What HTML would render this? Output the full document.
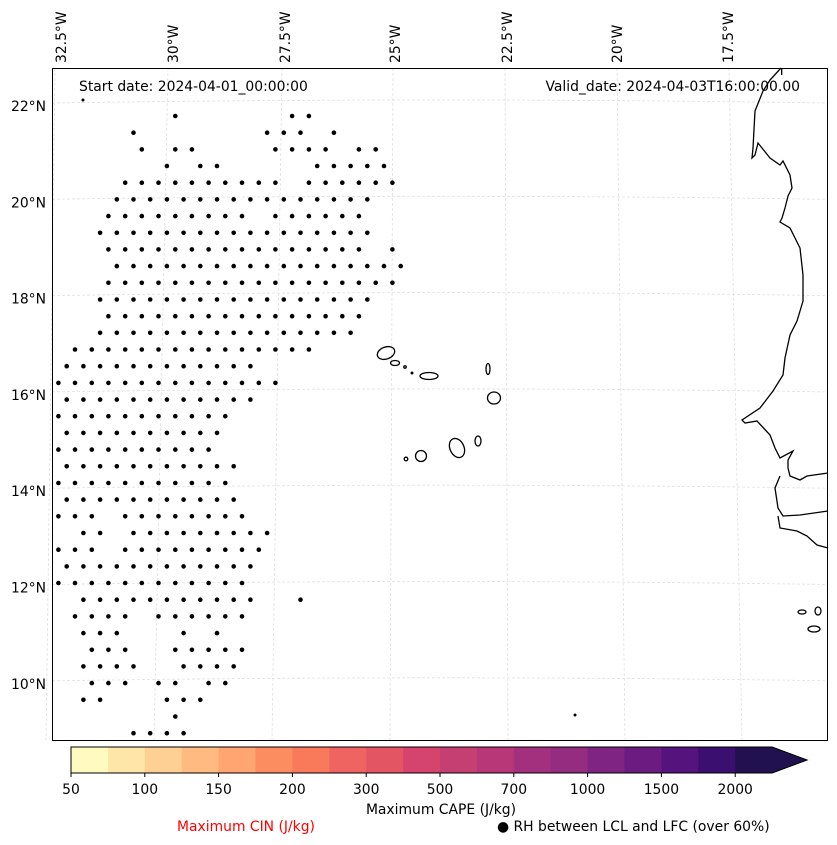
<!DOCTYPE html>
<html><head><meta charset="utf-8"><style>
html,body{margin:0;padding:0;background:#fff;width:837px;height:845px;overflow:hidden}
svg text{font-family:"DejaVu Sans","Liberation Sans",sans-serif}
</style></head><body>
<svg id="chart" width="837" height="845" viewBox="0 0 837 845" xmlns="http://www.w3.org/2000/svg">
<g id="grid" stroke="#e0e0e0" stroke-width="0.8" stroke-dasharray="3,2" fill="none"></g>
<g id="coast" stroke="#000" stroke-width="1.3" fill="none">
<path d="M781.7,68 L781.7,75 M781,68 L770,80 L763,91 L755,111 L753,148 L752,158 L755,155 L758,143 L770,158 L780,165 L783,161 L790,175 L792,188 L788,196 L785,208 L782,218 L780,222 L790,228 L800,248 L803,275 L803,301 L797,321 L790,335 L785,358 L783,375 L773,391 L760,408 L742,420 L745,423 L757,421 L770,435 L775,448 L780,458 L793,451 L788,460 L788,468 L790,476 L800,480 L807,476 L828,473 M780,476 L775,488 L778,508 L783,516 L800,515 L828,511 M778,516 L780,528 L797,531 L807,536 L817,545 L828,548"/>
<ellipse cx="802" cy="612" rx="4" ry="2"/>
<ellipse cx="818" cy="611" rx="3" ry="4"/>
<ellipse cx="814" cy="629" rx="6" ry="3"/>
<ellipse cx="386" cy="353" rx="9" ry="6" transform="rotate(-20 386 353)"/>
<ellipse cx="395" cy="363" rx="4.5" ry="2.5"/>
<circle cx="405" cy="367" r="1.2"/>
<circle cx="412" cy="373" r="0.8"/>
<ellipse cx="429" cy="376" rx="9" ry="3.5"/>
<ellipse cx="488" cy="369" rx="2" ry="5.5"/>
<ellipse cx="494" cy="398" rx="6.5" ry="6"/>
<ellipse cx="478" cy="441" rx="3" ry="5"/>
<ellipse cx="457" cy="448" rx="7" ry="10" transform="rotate(-25 457 448)"/>
<ellipse cx="421" cy="456" rx="5.5" ry="5.5"/>
<circle cx="406" cy="459" r="1.8"/>
</g>
<g id="dots" fill="#000"></g>
<circle cx="575" cy="715" r="1.5" fill="#000"/>
<circle cx="83" cy="100" r="1.5" fill="#000"/>
<rect x="52.5" y="68.5" width="775" height="672" fill="none" stroke="#000" stroke-width="1"/>
<text x="79" y="91" font-size="13.9">Start date: 2024-04-01_00:00:00</text>
<text x="800" y="91" font-size="13.9" text-anchor="end">Valid_date: 2024-04-03T16:00:00.00</text>
<g id="latlab" font-size="13.9" text-anchor="end"></g>
<g id="lonlab" font-size="13.9"></g>
<g id="cbar"></g>
<text x="441" y="814" font-size="13.9" text-anchor="middle">Maximum CAPE (J/kg)</text>
<text x="246" y="831" font-size="13.9" text-anchor="middle" fill="#ff0000">Maximum CIN (J/kg)</text>
<text x="497" y="831" font-size="13.9">● RH between LCL and LFC (over 60%)</text>
</svg>
<script>
// Data
const dotRows = [
[7,14,15],[5,13,14,15,17],[5,7,8,13,14,15,16,18,19],[7,9,10,16,17,18,19,20],
[4,5,6,7,8,9,10,11,12,13,15,16,17,18,19,20],[4,5,6,7,8,9,10,11,12,13,14,15,16,17,18,19],
[3,4,5,6,7,8,9,10,11,13,14,15,16,17,18],[3,4,5,6,7,8,9,10,11,12,13,14,15,16,17,18,19],
[3,4,5,6,7,8,9,10,11,12,13,14,15,16,17,18,20],[4,5,6,7,8,9,10,11,12,13,14,15,16,17,18,19,20,21],
[3,4,5,6,7,8,9,10,11,12,13,14,15,16,17,18,19,20],[3,4,5,6,7,8,9,10,11,12,13,14,15,16,17,18,19],
[3,4,5,6,7,8,9,10,11,12,13,14,15,16,17,18],[3,4,5,6,7,8,9,10,11,12,13,14,15,16,17,18],
[1,2,3,4,5,6,7,8,9,10,11,12,13,14,15],[1,2,3,4,5,6,7,8,9,10,11,12],
[0,1,2,3,4,5,6,7,8,9,10,11,12,13],[1,2,3,4,5,6,7,8,9,10,11,12],
[0,1,2,3,4,5,6,7,8,9,10],[1,2,3,4,5,6,7,8,9,10],[0,1,2,3,4,5,6,7,8,9],
[1,2,3,4,5,6,7,8,9,10,11],[0,1,2,3,4,5,6,7,8,9,10],[1,2,3,4,5,6,7,8,9,10,11],
[0,1,2,4,5,6,7,8,9,10,11],[2,3,5,6,7,8,9,10,11,12,13],[0,1,2,4,5,6,7,8,9,10,11,12],
[1,2,3,4,5,6,7,8,9,10,11,12],[0,1,2,3,4,5,6,7,8,9,10,11],[2,3,4,5,6,7,8,9,10,11,12,15],
[1,2,3,4,6,7,8,9,10,11],[2,3,4,8,10],[2,3,4,7,8,9,10,11],[2,3,4,5,8,9,10,11],
[2,3,4,6,7,9,10],[2,3,7,8,9],[7],[5,6,7,8]
];
const latLabels = ["22°N","20°N","18°N","16°N","14°N","12°N","10°N"];
const lonLabels = ["32.5°W","30°W","27.5°W","25°W","22.5°W","20°W","17.5°W"];
const cbarLevels = [50,75,100,125,150,175,200,250,300,400,500,600,700,850,1000,1250,1500,1750,2000];
const cbarTickLabels = ["50","100","150","200","300","500","700","1000","1500","2000"];
const cbarColors = ["#fffbc0","#fde6a8","#fed093","#feba80","#fea572","#fc8d60","#f97a5a","#ef6360","#e45563","#d5446d","#c53f72","#b73779","#a3307e","#942c80","#7e2482","#6a1c81","#55137d","#3b0f70","#221150"];

const NS="http://www.w3.org/2000/svg";
function mk(t,a,p){const e=document.createElementNS(NS,t);for(const k in a)e.setAttribute(k,a[k]);p.appendChild(e);return e;}
const rowY = r => 116 + 16.68*r;
const colX = (r,k) => (r%2===0 ? 58.35 : 50) + 16.7*k;
const latY = i => 106 + 96.3*i;

// gridlines
const g=document.getElementById('grid');
const lonTop=[55,168,282,393,505,617,729], lonBot=[46,154,272,390,508,625,742];
lonTop.forEach((x,i)=>{const l=mk('line',{x1:x,y1:68,x2:lonBot[i],y2:740},g);

});
latLabels.forEach((s,i)=>{const y=latY(i);const l=mk('path',{d:`M52,${y-3} Q440,${y-9} 827,${y-3}`},g);

});

// dots
const dg=document.getElementById('dots');
dotRows.forEach((ks,r)=>ks.forEach(k=>{const c=mk('circle',{cx:colX(r,k).toFixed(1),cy:rowY(r).toFixed(1),r:2.3},dg);

}));

// lat labels
const ll=document.getElementById('latlab');
latLabels.forEach((s,i)=>{const t=mk('text',{x:46,y:latY(i)+5},ll);t.textContent=s;

});
// lon labels
const lo=document.getElementById('lonlab');
const lonX=[66,178,290,400,512,622,733];
lonLabels.forEach((s,i)=>{const t=mk('text',{x:0,y:0,transform:`translate(${lonX[i]},63) rotate(-90)`},lo);t.textContent=s;

});

// colorbar
const cb=document.getElementById('cbar');
const cx0=71, bw=36.9, cy0=747, ch=26;
cbarColors.forEach((c,i)=>{const r=mk('rect',{x:cx0+i*bw,y:cy0,width:bw+0.5,height:ch,fill:c},cb);

});
const xEnd=cx0+cbarColors.length*bw;
const tri=mk('polygon',{points:`${xEnd},${cy0} ${xEnd+35},${cy0+ch/2} ${xEnd},${cy0+ch}`,fill:cbarColors[cbarColors.length-1]},cb);


const ol=mk('path',{d:`M${cx0},${cy0} L${xEnd},${cy0} L${xEnd+35},${cy0+ch/2} L${xEnd},${cy0+ch} L${cx0},${cy0+ch} Z`,fill:'none',stroke:'#000','stroke-width':1},cb);


cbarTickLabels.forEach((s,j)=>{const i=cbarLevels.indexOf(+s);const x=cx0+i*bw;
const tk=mk('line',{x1:x,y1:cy0+ch,x2:x,y2:cy0+ch+4,stroke:'#000'},cb);


const t=mk('text',{x:x,y:794,'font-size':13.9,'text-anchor':'middle'},cb);t.textContent=s;

});
</script>
</body></html>
